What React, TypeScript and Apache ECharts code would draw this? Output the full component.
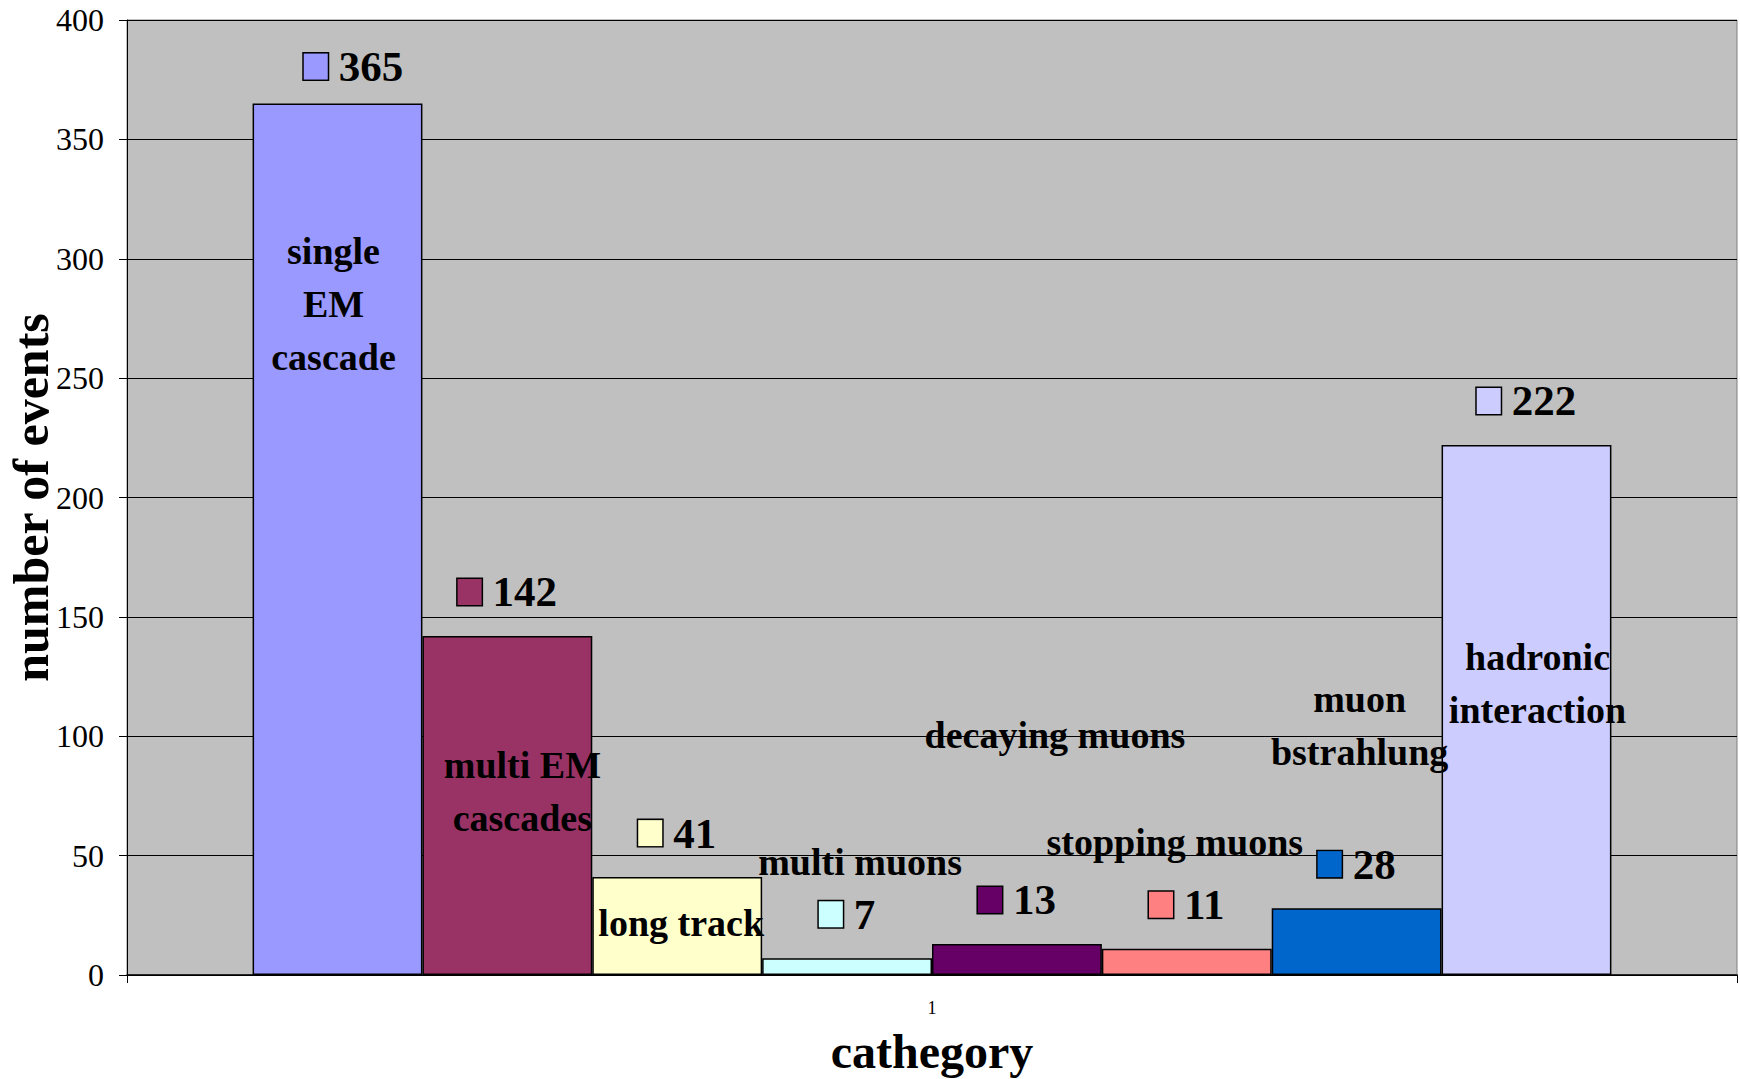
import React, { useEffect, useRef } from 'react';
import * as echarts from 'echarts';

const categories = ['1'];
const seriesNames = [
  'single\nEM\ncascade',
  'multi EM\ncascades',
  'long track',
  'multi muons',
  'decaying muons',
  'stopping muons',
  'muon\nbstrahlung',
  'hadronic\ninteraction',
];
const seriesValues = [365, 142, 41, 7, 13, 11, 28, 222];
const seriesColors = ['#9999FF', '#993366', '#FFFFCC', '#CCFFFF', '#660066', '#FF8080', '#0066CC', '#CCCCFF'];
const yMin = 0;
const yMax = 400;
const yInterval = 50;
const xTitle = 'cathegory';
const yTitle = 'number of events';

// layout: offsets (px) of the series-name labels from each bar's top centre
const nameLabelOffsets = [
  [-4, 200],
  [15, 156],
  [4, 46],
  [13, -96],
  [38, -209],
  [-12, -107],
  [3, -183],
  [11, 239],
];
// layout: manual offsets of value labels
const valueLabelOffsets = [[16, 7], [0, 0], [0, 0], [0, 0], [0, 0], [0, 0], [0, 0], [0, 0]];

const FONT = "'Times New Roman', 'Liberation Serif', serif";

export default function App() {
  const ref = useRef<HTMLDivElement>(null);
  useEffect(() => {
    if (!ref.current) return;
    const chart = echarts.init(ref.current, undefined, { renderer: 'svg' });
    const series = seriesValues.map((v, i) => ({
      type: 'bar',
      name: seriesNames[i],
      data: [
        {
          value: v,
          label: { offset: valueLabelOffsets[i] },
        },
      ],
      barGap: '0%',
      barCategoryGap: '15.6%',
      itemStyle: { color: seriesColors[i], borderColor: '#000', borderWidth: 1.5 },
      label: {
        show: true,
        position: 'top',
        distance: 20,
        formatter: (p: any) => `{k| }{v|${p.value}}`,
        rich: {
          k: {
            width: 24,
            height: 26,
            backgroundColor: seriesColors[i],
            borderColor: '#000',
            borderWidth: 1.5,
          },
          v: {
            fontSize: 43,
            fontWeight: 'bold',
            fontFamily: FONT,
            color: '#000',
            padding: [0, 0, 0, 11],
            lineHeight: 48,
          },
        },
      },
      markPoint: {
        symbol: 'rect',
        symbolSize: 1,
        itemStyle: { color: 'rgba(0,0,0,0)' },
        data: [{ type: 'max', name: seriesNames[i] }],
        label: {
          show: true,
          position: 'inside',
          offset: nameLabelOffsets[i],
          formatter: () => seriesNames[i],
          fontSize: 38,
          fontWeight: 'bold',
          fontFamily: FONT,
          color: '#000',
          lineHeight: 53,
          align: 'center',
          verticalAlign: 'middle',
        },
      },
    }));
    chart.setOption({
      animation: false,
      textStyle: { fontFamily: FONT, color: '#000' },
      grid: {
        left: 127,
        right: 3,
        top: 20,
        bottom: 104,
        show: true,
        backgroundColor: '#C0C0C0',
        borderColor: '#808080',
        borderWidth: 1,
        containLabel: false,
        outerBoundsMode: 'none',
      },
      xAxis: {
        type: 'category',
        data: categories,
        name: xTitle,
        nameLocation: 'middle',
        nameGap: 52,
        nameMoveOverlap: false,
        nameTextStyle: { fontSize: 48, fontWeight: 'bold', fontFamily: FONT, color: '#000' },
        axisLine: { lineStyle: { color: '#000', width: 1.5 } },
        axisTick: { show: true, length: 8, lineStyle: { color: '#000' } },
        axisLabel: { fontSize: 18, fontFamily: FONT, color: '#000', margin: 24 },
      },
      yAxis: {
        type: 'value',
        min: yMin,
        max: yMax,
        interval: yInterval,
        name: yTitle,
        nameLocation: 'middle',
        nameGap: 71,
        nameMoveOverlap: false,
        nameTextStyle: { fontSize: 50, fontWeight: 'bold', fontFamily: FONT, color: '#000' },
        axisLine: { show: true, lineStyle: { color: '#000', width: 1 } },
        axisTick: { show: true, inside: false, length: 8, lineStyle: { color: '#000' } },
        axisLabel: { fontSize: 32, fontFamily: FONT, color: '#000', margin: 23 },
        splitLine: { show: true, lineStyle: { color: '#000', width: 1 } },
      },
      series,
    });
    return () => chart.dispose();
  }, []);
  return (
    <div
      ref={ref}
      style={{ position: 'fixed', left: 0, top: 0, width: 1740, height: 1079, background: '#fff' }}
    />
  );
}
